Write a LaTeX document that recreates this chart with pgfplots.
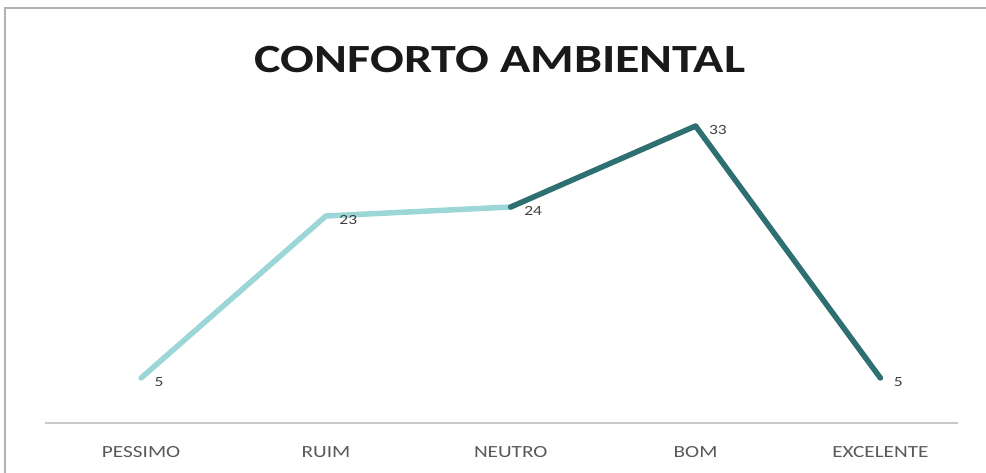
\documentclass[border=0pt]{standalone}
\usepackage{pgfplots}
\pgfplotsset{compat=1.18}
\usepackage{fontspec}
\setmainfont{Carlito}
\definecolor{lightteal}{HTML}{9CD6D7}
\definecolor{darkteal}{HTML}{2E7072}
\definecolor{axisgray}{HTML}{C8C8C8}
\definecolor{labelgray}{HTML}{595959}
\newcommand{\wide}[1]{\scalebox{1.25}[1]{#1}}
\begin{document}
\begin{tikzpicture}
\path[use as bounding box] (0pt,0pt) rectangle (986pt,473pt);
\draw[gray!60, line width=1.5pt] (5pt,0pt) -- (5pt,465pt) -- (986pt,465pt);
\node[font=\fontsize{40}{44}\selectfont\bfseries, text=black!90] at (500pt,413pt) {\wide{CONFORTO AMBIENTAL}};
\begin{axis}[
  at={(45pt,50pt)}, anchor=south west,
  scale only axis, width=913pt, height=315pt,
  xmin=-0.52, xmax=4.42, ymin=0, ymax=35,
  axis y line=none,
  axis x line*=bottom,
  x axis line style={axisgray, line width=1.2pt, -},
  xtick={0,1,2,3,4},
  xticklabels={\wide{PESSIMO},\wide{RUIM},\wide{NEUTRO},\wide{BOM},\wide{EXCELENTE}},
  major tick length=0pt,
  xticklabel style={font=\fontsize{17}{20}\selectfont, text=labelgray, yshift=-20pt},
  clip=false,
]
\addplot[lightteal, line width=5.5pt, line join=round, line cap=round] coordinates {(0,5) (1,23) (2,24)};
\addplot[darkteal, line width=5.5pt, line join=round, line cap=round] coordinates {(2,24) (3,33) (4,5)};
\addplot[draw=none, mark=none, nodes near coords={\wide{\pgfmathprintnumber[assume math mode=true]{\pgfplotspointmeta}}},
  every node near coord/.append style={anchor=west, xshift=10pt, yshift=-4pt, font=\fontsize{14}{16}\selectfont, text=black!75}]
  coordinates {(0,5) (1,23) (2,24) (3,33) (4,5)};
\end{axis}
\end{tikzpicture}
\end{document}
